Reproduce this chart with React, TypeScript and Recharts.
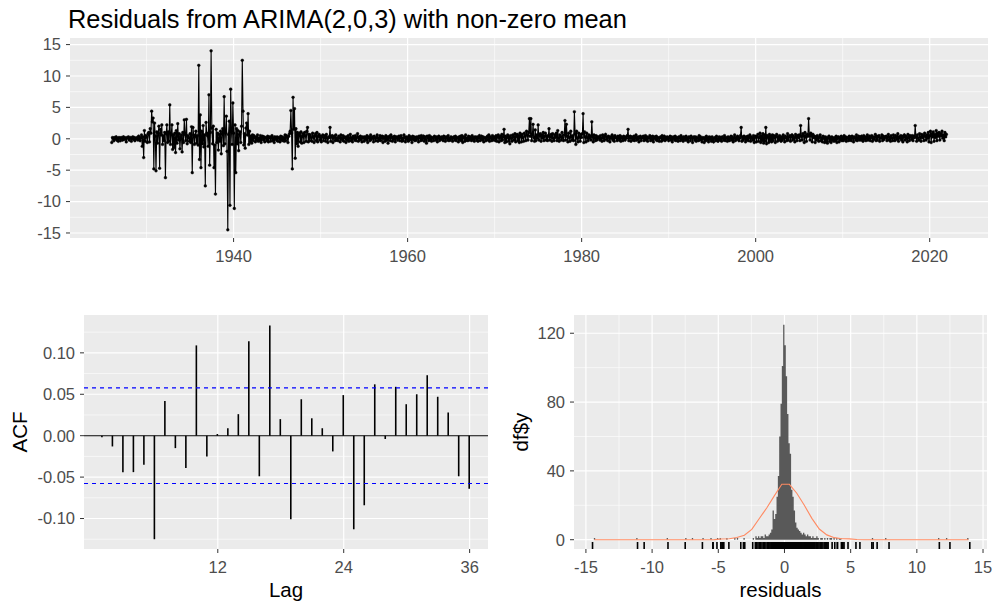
import React from 'react';
import {
  LineChart,
  ComposedChart,
  Line,
  Area,
  Bar,
  Scatter,
  XAxis,
  YAxis,
  CartesianGrid,
  ReferenceLine,
} from 'recharts';

// ---------- Residual series (monthly, starting Jan 1926) ----------
const START_YEAR = 1926;

const res1926to1929 = [
  -0.6, 0.2, 0.1, -0.3, 0.2, 0.0, 0.3, -0.2, 0.1, -0.4, 0.2, 0.1,
  -0.3, 0.2, 0.1, -0.2, 0.3, -0.1, 0.2, 0.0, -0.5, 0.2, 0.1, 0.3,
  -0.2, 0.1, 0.2, -0.4, 0.1, 0.3, -0.1, 0.2, -0.3, 0.1, 0.0, 0.2,
  -0.2, 0.4, 0.1, -0.3, 0.2, 0.6, -1.2, 0.3, -3.0, 1.3, -0.4, 0.5,
];

const res1930s = [
  0.3, -0.6, 0.8, 1.0, -0.5, 1.6, 0.9, 4.4, 2.7, 3.3, -4.8, 2.5,
  0.4, -5.1, 1.1, -0.7, 0.9, 2.0, -4.7, 1.5, 0.6, 2.2, -0.9, 0.5,
  -0.3, 1.0, -6.2, 0.8, 2.2, -0.6, 1.1, -0.4, 5.4, -0.9, 0.7, 2.2,
  -1.7, 0.6, -1.4, 0.9, -2.2, 1.3, -0.7, 2.4, -0.2, 0.8, -1.6, 0.3,
  0.6, -2.1, 1.0, -0.6, 3.0, 0.7, -0.3, 3.1, -0.8, 0.5, 0.2, -0.4,
  0.8, -0.6, 1.9, -5.4, 1.8, 0.6, -0.9, 0.4, 1.2, -0.7, 0.5, -1.0,
  11.7, -3.3, 3.8, -4.6, 1.2, -0.8, 2.1, -1.3, 0.6, -7.5, 2.6, 0.9,
  0.5, -1.2, 7.0, -4.2, 1.0, 14.0, 1.7, -0.8, 2.0, -4.6, -1.0, -8.8,
  1.5, -0.6, 0.9, -1.8, 0.7, -0.4, 1.2, -2.4, 0.8, 1.6, -1.1, 6.7,
  -0.8, 1.0, 3.6, -2.0, -14.5, 0.7, 2.8, -10.6, 7.9, 1.2, -0.9, 5.7,
];

const res1940s = [
  0.9, -11.1, 2.2, -5.4, 1.6, -0.8, 1.3, -1.9, 0.7, 1.1, -0.6, 2.0,
  12.5, 4.4, -1.0, 0.8, -1.5, 1.7, 2.5, 0.6, 4.0, -0.9, 1.2, -0.5,
  0.4, -0.7, 0.6, -0.3, 0.5, 0.2, -0.5, 0.3, -0.2, 0.6, -0.4, 0.1,
  -0.3, 0.5, -0.6, 0.2, 0.4, -0.2, 0.3, -0.5, 0.2, 0.1, -0.3, 0.4,
  -0.5, 0.2, 0.3, -0.4, 0.1, 0.5, -0.3, 0.2, -0.6, 0.3, 0.1, -0.2,
  0.3, -0.4, 0.2, 0.1, -0.5, 0.4, -0.2, 0.3, -0.3, 0.2, -0.4, 0.6,
  -0.3, 0.5, 0.2, -0.6, 0.4, 0.8, 1.2, 4.5, 0.9, -4.8, 6.6, 1.5,
  4.8, -3.1, 1.6, -0.8, 1.0, -1.2, 0.6, 0.9, -0.5, 1.1, -0.7, 0.4,
  0.8, -0.6, 1.0, 0.5, -0.4, 1.2, 1.8, -0.5, 0.7, -0.3, 0.6, 0.2,
  -0.4, 0.9, 0.3, -0.6, 0.5, 0.8, -0.3, 1.0, -0.5, 0.4, 0.7, -0.2,
];

const res1950s = [
  0.4, -0.5, 0.3, 0.6, -0.3, 0.2, 0.5, -0.4, 0.7, 0.1, -0.6, 0.3,
  0.2, 1.8, -0.4, 0.3, 0.5, -0.6, 0.2, 0.4, -0.3, 0.6, -0.2, 0.1,
  -0.3, 0.4, 0.2, -0.5, 0.6, 0.1, -0.2, 0.5, -0.4, 0.3, 0.2, -0.6,
  0.3, -0.2, 0.5, -0.4, 0.1, 0.7, -0.3, 0.2, -0.5, 0.4, 0.1, -0.2,
  0.5, -0.3, 0.2, 0.8, -0.4, 0.3, -0.2, 0.4, 0.1, -0.5, 0.3, 0.2,
  -0.4, 0.3, 0.1, -0.2, 0.5, -0.6, 0.2, 0.3, -0.3, 0.6, -0.1, 0.2,
  0.3, -0.5, 0.4, 0.1, -0.3, 0.2, 0.6, -0.4, 0.2, -0.2, 0.5, -0.3,
  0.2, 0.4, -0.6, 0.3, 0.1, -0.4, 0.5, -0.2, 0.3, -0.7, 0.2, 0.4,
  -0.3, 0.6, 0.2, -0.4, 0.3, -0.1, 0.4, -0.5, 0.2, 0.3, -0.2, 0.1,
  0.4, -0.3, 0.2, 0.5, -0.4, 0.1, -0.3, 0.6, 0.2, -0.5, 0.3, -0.1,
];

const res1960s = [
  0.2, -0.4, 0.5, -0.2, 0.3, 0.1, -0.6, 0.4, -0.1, 0.3, -0.3, 0.2,
  -0.2, 0.3, 0.1, -0.5, 0.4, 0.2, -0.3, 0.5, -0.2, 0.1, 0.4, -0.4,
  0.3, -0.1, -0.7, 0.4, 0.2, -0.3, 0.5, -0.2, 0.3, -0.4, 0.1, 0.2,
  -0.3, 0.4, 0.2, -0.2, 0.3, -0.5, 0.1, 0.4, -0.3, 0.2, -0.1, 0.3,
  0.2, -0.3, 0.4, 0.1, -0.4, 0.3, 0.2, -0.2, 0.5, -0.3, 0.1, -0.2,
  0.3, 0.1, -0.4, 0.2, 0.3, -0.2, 0.4, -0.3, 0.1, 0.2, -0.5, 0.3,
  -0.2, 0.4, -0.3, 0.5, -0.6, 0.2, 0.3, -0.4, 0.6, -0.2, 0.1, -0.3,
  0.4, -0.2, 0.3, 0.1, -0.3, 0.5, -0.1, 0.2, -0.4, 0.3, 0.2, -0.2,
  0.3, -0.4, 0.2, 0.5, -0.3, 0.1, 0.4, -0.2, 0.3, -0.5, 0.2, 0.1,
  -0.3, 0.2, 0.4, -0.2, 0.6, -0.4, 0.3, 0.1, -0.3, 0.5, -0.2, 0.3,
];

const res1970s = [
  0.2, -0.3, 0.5, -0.4, 0.3, 0.6, -0.5, 0.2, 0.4, -0.3, 0.7, -0.2,
  0.3, 1.5, -0.6, 0.4, -0.5, 0.2, 0.6, -0.4, 0.3, -0.8, 0.5, 0.1,
  -0.4, 0.6, 0.3, -0.2, 0.8, -0.5, 0.4, 0.7, -0.3, 0.5, -0.6, 0.9,
  0.4, -0.5, 0.7, 0.2, -0.4, 0.9, 0.5, -0.3, 1.2, 0.6, -0.2, 1.0,
  3.2, 0.4, 3.2, -0.3, 0.6, 2.3, 0.2, -0.4, 1.4, -0.3, 0.6, 0.1,
  2.2, -0.2, 0.5, 0.8, -0.4, 0.6, 0.1, 1.0, -0.3, 0.4, 0.9, -0.2,
  0.5, -0.3, 0.4, 1.6, -0.2, 0.3, 0.7, -0.4, 0.8, 0.1, -0.3, 0.6,
  0.2, 0.9, -0.3, 1.3, 0.1, -0.4, 0.6, 0.3, -0.2, 1.0, 0.2, -0.3,
  0.6, 2.9, -0.2, 2.3, 0.4, -0.5, 0.9, 0.2, -0.4, 1.2, 0.3, -0.2,
  0.5, -0.3, 4.3, 0.8, -0.9, 1.2, 0.1, -0.5, 0.9, 0.3, -0.4, 0.7,
];

const res1980s = [
  0.2, 0.8, 4.0, -0.6, 1.1, 0.3, -0.5, 0.9, 0.2, -0.3, 0.6, 0.1,
  0.4, -0.2, 2.7, 0.3, -0.5, 0.6, 0.1, -0.3, 0.5, -0.2, 0.3, 0.1,
  0.3, -0.2, 0.5, 0.1, -0.4, 0.6, 0.2, -0.3, 0.4, 0.7, -0.1, 0.3,
  -0.3, 0.4, 0.2, -0.5, 0.3, 0.1, 0.6, -0.2, 0.3, -0.4, 0.5, 0.2,
  0.1, -0.3, 0.4, 0.2, -0.2, 0.5, -0.4, 0.3, 0.1, -0.3, 0.4, 0.2,
  -0.2, 0.3, 0.1, 0.5, 1.5, -0.3, 0.2, 0.4, -0.4, 0.3, 0.1, -0.2,
  0.4, -0.3, 0.2, 0.6, -0.2, 0.1, 0.3, -0.5, 0.2, 0.4, -0.3, 0.1,
  0.2, 0.4, -0.3, 0.1, 0.5, -0.2, 0.3, -0.4, 0.2, 0.1, 0.5, -0.3,
  0.3, -0.2, 0.4, -0.5, 0.2, 0.3, -0.1, 0.4, -0.3, 0.2, 0.1, -0.4,
  0.2, 0.3, -0.4, 0.5, -0.2, 0.1, 0.4, -0.3, 0.2, -0.1, 0.3, 0.1,
];

const res1990s = [
  -0.3, 0.2, 0.4, -0.2, 0.3, -0.5, 0.1, 0.3, -0.2, 0.4, -0.3, 0.2,
  0.1, -0.4, 0.3, 0.2, -0.3, 0.5, -0.1, 0.2, -0.4, 0.3, 0.1, -0.2,
  0.4, -0.2, 0.1, -0.5, 0.3, 0.2, -0.3, 0.4, 0.1, -0.6, 0.2, 0.3,
  -0.2, 0.3, -0.4, 0.2, 0.1, -0.3, 0.5, -0.2, 0.3, -0.1, -0.5, 0.2,
  0.1, -0.6, 0.2, -0.3, 0.4, -0.2, 0.1, -0.5, 0.3, -0.1, 0.2, -0.4,
  0.3, -0.2, -0.5, 0.1, 0.2, -0.3, 0.4, -0.1, -0.4, 0.2, 0.3, -0.2,
  0.2, -0.4, 0.3, 0.1, -0.2, 0.5, -0.3, 0.2, 0.1, -0.4, 0.3, -0.1,
  -0.3, 0.2, 0.4, -0.2, 0.3, -0.5, 0.1, 0.6, -0.3, 0.2, -0.1, 0.4,
  0.2, -0.3, 0.1, 0.5, 1.8, -0.4, 0.3, -0.2, 0.4, 0.1, -0.5, 0.3,
  -0.2, 0.4, -0.3, 0.2, 0.6, -0.4, 0.3, 0.1, -0.2, 0.5, -0.6, 0.3,
];

const res2000s = [
  0.4, -0.5, 0.3, 0.7, -0.4, 0.2, 0.9, -0.6, 0.5, -0.3, 0.8, -0.7,
  0.6, -0.4, 1.8, -0.8, 0.5, 0.3, -0.6, 0.7, -0.3, 0.4, -0.5, 0.6,
  -0.3, 0.5, 0.2, -0.6, 0.4, 0.7, -0.4, 0.3, -0.2, 0.5, 0.1, -0.4,
  0.3, -0.2, 0.6, 0.1, -0.5, 0.4, 0.2, -0.3, 0.8, -0.2, 0.3, 0.5,
  -0.4, 0.3, 0.6, -0.2, 0.4, 0.1, -0.5, 0.7, 0.3, -0.3, 0.5, 0.2,
  0.6, -0.3, 2.1, 0.4, -0.2, 0.8, 0.5, -0.6, 1.0, 0.3, -0.4, 0.7,
  0.4, 3.2, 0.6, -0.2, 0.9, 0.5, -0.5, 0.7, 0.2, 0.4, -0.6, 0.3,
  -0.2, 0.5, 0.1, -0.4, 0.3, 0.6, -0.3, 0.2, -0.5, 0.4, 0.1, -0.6,
  0.3, -0.5, 0.2, -0.7, 0.1, 0.4, -0.4, 0.2, -0.6, 0.3, -0.2, 0.1,
  -0.4, 0.2, -0.3, 0.4, -0.6, 0.1, 0.3, -0.5, 0.2, -0.2, 0.4, -0.3,
];

const res2010s = [
  0.2, -0.3, 0.5, -0.1, 0.3, -0.4, 0.2, 0.1, -0.3, 0.4, -0.2, 0.3,
  -0.3, 0.4, 0.1, -0.5, 0.3, 0.2, -0.2, 0.6, -0.3, 0.1, 0.4, -0.2,
  0.3, -0.2, 0.4, 0.1, -0.4, 0.5, -0.1, 0.3, -0.3, 0.2, 0.6, -0.2,
  0.1, 0.4, -0.3, 0.2, 0.5, -0.4, 0.3, -0.1, 0.2, 0.7, -0.3, 0.4,
  -0.2, 0.3, 0.5, -0.4, 0.2, 0.1, 0.6, -0.3, 0.4, -0.1, 0.3, 0.2,
  0.4, -0.3, 0.2, 0.7, -0.2, 0.3, -0.4, 0.5, 0.1, -0.3, 0.6, 0.2,
  -0.3, 0.5, 0.2, -0.1, 0.8, -0.4, 0.3, 0.1, 0.5, -0.2, 0.4, -0.5,
  0.3, 0.6, -0.2, 0.4, 0.1, -0.5, 0.7, 0.2, -0.3, 0.5, 0.3, -0.1,
  0.5, -0.3, 0.4, 0.2, 2.1, 0.3, -0.4, 0.6, 0.1, -0.2, 0.8, 0.3,
  -0.4, 0.7, 0.2, 0.5, -0.3, 0.9, 0.4, -0.2, 0.6, 0.1, 1.0, -0.5,
];

const res2020s = [
  0.5, 1.2, -0.6, 0.8, 0.3, 1.1, -0.4, 0.7, 0.2, 1.3, -0.3, 0.9,
  0.4, 1.0, -0.2, 0.8, 0.5, 1.2, 0.1, 0.6, -0.3, 1.0, 0.3, 0.7,
];

const residuals = [
  ...res1926to1929, ...res1930s, ...res1940s, ...res1950s, ...res1960s,
  ...res1970s, ...res1980s, ...res1990s, ...res2000s, ...res2010s, ...res2020s,
];

const yearTicks = [1940, 1960, 1980, 2000, 2020];
const yearMinor = [1930, 1950, 1970, 1990, 2010];
const resTicks = [-15, -10, -5, 0, 5, 10, 15];
const resMinor = [-12.5, -7.5, -2.5, 2.5, 7.5, 12.5];

// ---------- ACF ----------
const acfLags = [
  1, 2, 3, 4, 5, 6, 7, 8, 9, 10, 11, 12, 13, 14, 15, 16, 17, 18,
  19, 20, 21, 22, 23, 24, 25, 26, 27, 28, 29, 30, 31, 32, 33, 34, 35, 36,
];
const acfValues = [
  -0.002, -0.013, -0.044, -0.044, -0.035, -0.125, 0.042, -0.015, -0.039, 0.109, -0.025, 0.002,
  0.009, 0.026, 0.114, -0.049, 0.133, 0.020, -0.101, 0.044, 0.021, 0.009, -0.019, 0.049,
  -0.113, -0.084, 0.062, -0.004, 0.059, 0.038, 0.050, 0.073, 0.047, 0.028, -0.049, -0.064,
];
const acfCiBound = 0.0577;
const lagTicks = [12, 24, 36];
const acfTicks = [-0.1, -0.05, 0, 0.05, 0.1];
const acfMinor = [-0.125, -0.075, -0.025, 0.025, 0.075, 0.125];

// ---------- Histogram ----------
const histBinWidth = 0.1;
const histCentralStart = -2.4;
const histCentralCounts = [
  1, 0, 2, 1, 2, 1, 2, 2, 1, 3, 2, 2, 3, 4, 6, 17, 12, 15, 25, 37, 60, 79, 101, 125,
  113, 95, 73, 56, 50, 29, 25, 17, 10, 7, 6, 5, 4, 3, 4, 3, 2, 3, 2, 2, 1, 2, 1, 1,
  2, 1, 0, 1, 1, 0, 1, 0, 1, 0, 1, 1, 0, 1, 0, 1, 0, 1,
];
const histTailEdges = [
  -14.4, -11.2, -8.9, -7.5, -7.0, -6.2, -5.6, -5.1, -4.9, -4.4, -3.8, -3.6, -3.1,
  4.2, 6.6, 7.6, 11.6, 12.2, 13.8,
];
const histTailCounts = [1, 1, 1, 1, 1, 1, 1, 1, 1, 1, 1, 1, 1, 1, 1, 1, 1, 1, 1];

const normalX = [
  -14.36, -13.79, -13.23, -12.66, -12.10, -11.53, -10.96, -10.40, -9.83, -9.26,
  -8.70, -8.13, -7.56, -7.00, -6.43, -5.87, -5.30, -4.73, -4.17, -3.60,
  -3.03, -2.47, -1.90, -1.33, -0.77, -0.20, 0.37, 0.93, 1.50, 2.07,
  2.63, 3.20, 3.77, 4.33, 4.90, 5.47, 6.03, 6.60, 7.17, 7.73,
  8.30, 8.87, 9.43, 10.00, 10.57, 11.13, 11.70, 12.26, 12.83, 13.40, 13.90,
];
const normalY = [
  0, 0, 0, 0, 0, 0, 0, 0, 0, 0,
  0, 0, 0, 0, 0, 0, 0.05, 0.4, 0.6, 1.3,
  2.6, 6.0, 12.3, 18.6, 25.5, 32.2, 32.2, 27.0, 20.0, 12.4,
  6.2, 2.8, 1.2, 0.6, 0.5, 0.1, 0, 0, 0, 0,
  0, 0, 0, 0, 0, 0, 0, 0, 0, 0, 0,
];
const histXTicks = [-15, -10, -5, 0, 5, 10, 15];
const histXMinor = [-12.5, -7.5, -2.5, 2.5, 7.5, 12.5];
const countTicks = [0, 40, 80, 120];
const countMinor = [20, 60, 100];

// ---------- Derived tables ----------
const seriesData = residuals.map((v, i) => ({ x: START_YEAR + i / 12, y: v }));
const acfData = acfLags.map((lag, i) => ({ lag, acf: acfValues[i] }));

const histBins: { edge: number; count: number }[] = [];
histCentralCounts.forEach((c, i) =>
  histBins.push({ edge: +(histCentralStart + i * histBinWidth).toFixed(2), count: c })
);
histTailEdges.forEach((e, i) => histBins.push({ edge: e, count: histTailCounts[i] }));
histBins.sort((a, b) => a.edge - b.edge);
const histData: { x: number; y: number }[] = [];
histBins.forEach((b, i) => {
  histData.push({ x: b.edge, y: b.count });
  const right = +(b.edge + histBinWidth).toFixed(2);
  const next = histBins[i + 1];
  if (!next || next.edge > right + 1e-9) histData.push({ x: right, y: 0 });
});
const normalData = normalX.map((x, i) => ({ x, y: normalY[i] }));

const HIST_Y_DOMAIN: [number, number] = [-5.4, 130.6];
const rugData = residuals.map((v) => ({ x: v, y: HIST_Y_DOMAIN[0] }));

// ---------- Styles ----------
const FONT = '"Liberation Sans", Arial, Helvetica, sans-serif';
const PANEL_BG = '#EBEBEB';
const CI_BLUE = '#0000FF';
const tickStyle = { fill: '#4D4D4D', fontSize: 16.5, fontFamily: FONT };
const tickLine = { stroke: '#333333', strokeWidth: 1 };

const RugTick = (props: any) => {
  const { cx, cy } = props;
  if (cx == null || cy == null) return null;
  return <line x1={cx} x2={cx} y1={cy} y2={cy - 7} stroke="#000" strokeWidth={1.6} />;
};

export default function App() {
  return (
    <div
      style={{
        position: 'fixed',
        left: 0,
        top: 0,
        width: 995,
        height: 609,
        background: '#FFFFFF',
        overflow: 'hidden',
      }}
    >
      {/* Top: residual time series */}
      <div style={{ position: 'absolute', left: 0, top: 0 }}>
        <LineChart
          width={995}
          height={275}
          data={seriesData}
          margin={{ top: 38, right: 7, bottom: 0, left: 0 }}
        >
          <CartesianGrid
            fill={PANEL_BG}
            fillOpacity={1}
            stroke="#FFFFFF"
            strokeWidth={0.6}
            horizontalValues={resMinor}
            verticalValues={yearMinor}
          />
          <CartesianGrid
            stroke="#FFFFFF"
            strokeWidth={1.2}
            horizontalValues={resTicks}
            verticalValues={yearTicks}
          />
          <XAxis
            type="number"
            dataKey="x"
            domain={[1921.2, 2026.7]}
            allowDataOverflow
            ticks={yearTicks}
            interval={0}
            height={37}
            axisLine={false}
            tickLine={tickLine}
            tickSize={4}
            tickMargin={8}
            tick={tickStyle}
          />
          <YAxis
            type="number"
            domain={[-15.8, 16.05]}
            allowDataOverflow
            ticks={resTicks}
            interval={0}
            width={70}
            axisLine={false}
            tickLine={tickLine}
            tickSize={4}
            tickMargin={5}
            tick={tickStyle}
          />
          <Line
            type="linear"
            dataKey="y"
            stroke="#000000"
            strokeWidth={1.1}
            dot={{ r: 1.4, fill: '#000', stroke: '#000', strokeWidth: 0.4 }}
            isAnimationActive={false}
          />
        </LineChart>
      </div>

      {/* Bottom left: ACF */}
      <div style={{ position: 'absolute', left: 0, top: 290 }}>
        <ComposedChart
          width={500}
          height={319}
          data={acfData}
          margin={{ top: 25, right: 12, bottom: 0, left: 0 }}
        >
          <CartesianGrid
            fill={PANEL_BG}
            fillOpacity={1}
            stroke="#FFFFFF"
            strokeWidth={0.6}
            horizontalValues={acfMinor}
            vertical={false}
          />
          <CartesianGrid
            stroke="#FFFFFF"
            strokeWidth={1.2}
            horizontalValues={acfTicks}
            verticalValues={lagTicks}
          />
          <XAxis
            type="number"
            dataKey="lag"
            domain={[-0.75, 37.75]}
            allowDataOverflow
            ticks={lagTicks}
            interval={0}
            height={60}
            axisLine={false}
            tickLine={tickLine}
            tickSize={4}
            tickMargin={8}
            tick={tickStyle}
          />
          <YAxis
            type="number"
            domain={[-0.1368, 0.1457]}
            allowDataOverflow
            ticks={acfTicks}
            interval={0}
            width={84}
            axisLine={false}
            tickLine={tickLine}
            tickSize={4}
            tickMargin={5}
            tick={tickStyle}
            tickFormatter={(v: number) => v.toFixed(2)}
          />
          <ReferenceLine key="zero" y={0} stroke="#000000" strokeWidth={1.1} />
          <Bar dataKey="acf" fill="#000000" barSize={1.6} isAnimationActive={false} />
          <ReferenceLine
            key="ciUpper"
            y={acfCiBound}
            stroke={CI_BLUE}
            strokeWidth={1.2}
            strokeDasharray="4 4"
          />
          <ReferenceLine
            key="ciLower"
            y={-acfCiBound}
            stroke={CI_BLUE}
            strokeWidth={1.2}
            strokeDasharray="4 4"
          />
        </ComposedChart>
      </div>

      {/* Bottom right: histogram */}
      <div style={{ position: 'absolute', left: 500, top: 290 }}>
        <ComposedChart
          width={495}
          height={319}
          margin={{ top: 25, right: 8, bottom: 0, left: 0 }}
        >
          <CartesianGrid
            fill={PANEL_BG}
            fillOpacity={1}
            stroke="#FFFFFF"
            strokeWidth={0.6}
            horizontalValues={countMinor}
            verticalValues={histXMinor}
          />
          <CartesianGrid
            stroke="#FFFFFF"
            strokeWidth={1.2}
            horizontalValues={countTicks}
            verticalValues={histXTicks}
          />
          <XAxis
            type="number"
            dataKey="x"
            domain={[-15.9, 15.3]}
            allowDataOverflow
            ticks={histXTicks}
            interval={0}
            height={60}
            axisLine={false}
            tickLine={tickLine}
            tickSize={4}
            tickMargin={8}
            tick={tickStyle}
          />
          <YAxis
            type="number"
            domain={HIST_Y_DOMAIN}
            allowDataOverflow
            ticks={countTicks}
            interval={0}
            width={74}
            axisLine={false}
            tickLine={tickLine}
            tickSize={4}
            tickMargin={5}
            tick={tickStyle}
          />
          <Area
            data={histData}
            type="stepAfter"
            dataKey="y"
            stroke="none"
            fill="#595959"
            fillOpacity={1}
            baseValue={0}
            isAnimationActive={false}
          />
          <Line
            data={normalData}
            type="linear"
            dataKey="y"
            stroke="#FF8A62"
            strokeWidth={1.1}
            dot={false}
            isAnimationActive={false}
          />
          <Scatter data={rugData} dataKey="y" shape={RugTick} isAnimationActive={false} />
        </ComposedChart>
      </div>

      {/* Text overlay: title and axis titles */}
      <svg
        width={995}
        height={609}
        style={{ position: 'absolute', left: 0, top: 0, pointerEvents: 'none' }}
      >
        <text x={68} y={28} fontSize={25.4} fontFamily={FONT} fill="#000">
          Residuals from ARIMA(2,0,3) with non-zero mean
        </text>
        <text x={286} y={597} fontSize={20.5} fontFamily={FONT} fill="#000" textAnchor="middle">
          Lag
        </text>
        <text x={780.5} y={597} fontSize={20.5} fontFamily={FONT} fill="#000" textAnchor="middle">
          residuals
        </text>
        <text
          transform="translate(27,432) rotate(-90)"
          fontSize={20.5}
          fontFamily={FONT}
          fill="#000"
          textAnchor="middle"
        >
          ACF
        </text>
        <text
          transform="translate(528,432) rotate(-90)"
          fontSize={20.5}
          fontFamily={FONT}
          fill="#000"
          textAnchor="middle"
        >
          df$y
        </text>
      </svg>
    </div>
  );
}
